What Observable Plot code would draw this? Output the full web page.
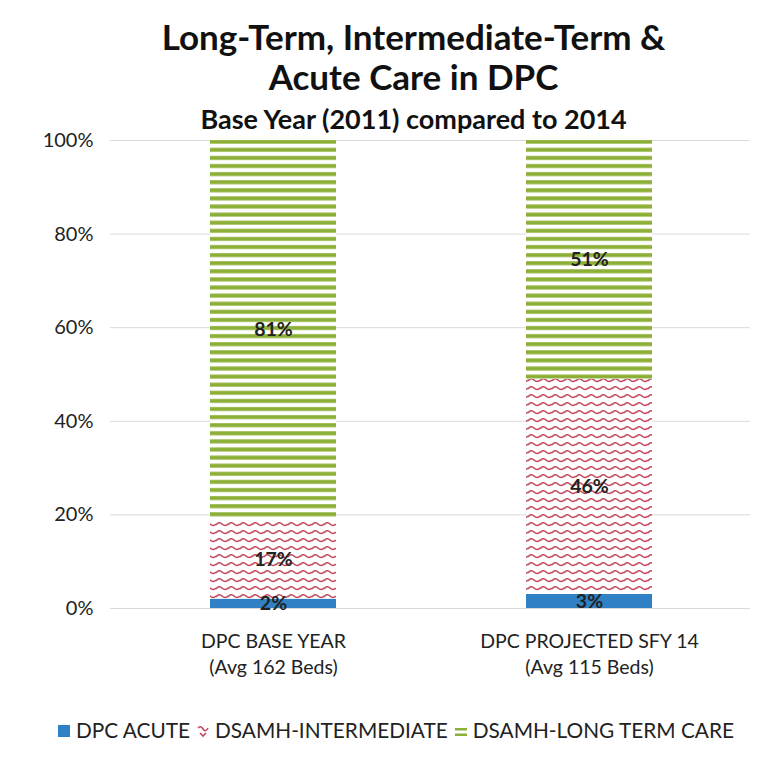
<!DOCTYPE html>
<html>
<head>
<meta charset="utf-8">
<script src="https://cdn.jsdelivr.net/npm/d3@7"></script>
<script src="https://cdn.jsdelivr.net/npm/@observablehq/plot@0.6"></script>
<style>
  html, body { margin: 0; padding: 0; background: #fff; }
  body { width: 763px; height: 766px; position: relative; overflow: hidden; font-family: Lato, "Open Sans", sans-serif; }
  #title { position: absolute; left: 32px; width: 763px; top: 16px; text-align: center; font-weight: bold; font-size: 35px; line-height: 40px; color: #111; }
  #subtitle { position: absolute; left: 32px; width: 763px; top: 102px; text-align: center; font-weight: bold; font-size: 27px; line-height: 34px; color: #111; }
  #chart { position: absolute; left: 0; top: 0; }
  #legend { position: absolute; left: 14px; width: 763px; top: 717px; text-align: center; font-size: 20.8px; color: #222; white-space: nowrap; }
  #legend span.item { margin: 0 3px; }
  #legend svg { vertical-align: -1px; margin-right: 5px; }
</style>
</head>
<body>
<div id="chart"></div>
<div id="title">Long-Term, Intermediate-Term &amp;<br>Acute Care in DPC</div>
<div id="subtitle">Base Year (2011) compared to 2014</div>
<div id="legend"></div>
<script>
const categories = ["DPC BASE YEAR", "DPC PROJECTED SFY 14"];
const subLabels = ["(Avg 162 Beds)", "(Avg 115 Beds)"];
const seriesNames = ["DPC ACUTE", "DSAMH-INTERMEDIATE", "DSAMH-LONG TERM CARE"];
const acute = [2, 3];
const intermediate = [17, 46];
const longTerm = [81, 51];
const yTicks = [0, 20, 40, 60, 80, 100];

const fills = ["#2f80c4", "url(#wave)", "url(#stripes)"];

const rows = [];
categories.forEach((c, i) => {
  rows.push({cat: c, series: seriesNames[0], value: acute[i]});
  rows.push({cat: c, series: seriesNames[1], value: intermediate[i]});
  rows.push({cat: c, series: seriesNames[2], value: longTerm[i]});
});

const stackOpts = {x: "cat", y: "value", z: "series", order: seriesNames};

const svg = Plot.plot({
  width: 763,
  height: 766,
  marginTop: 140,
  marginBottom: 158,
  marginLeft: 113,
  marginRight: 13,
  style: {fontFamily: "Lato, 'Open Sans', sans-serif", background: "transparent"},
  x: {domain: categories, range: [115, 748], paddingInner: 0.6, paddingOuter: 0.3, axis: null},
  y: {domain: [0, 100], axis: null},
  color: {domain: seriesNames, range: fills},
  marks: [
    Plot.ruleY(yTicks, {stroke: "#d9d9d9", strokeWidth: 1}),
    Plot.text(yTicks, {y: d => d, text: d => d + "%", frameAnchor: "left", textAnchor: "end", dx: -20, fontSize: 20, fill: "#222"}),
    Plot.barY(rows, Plot.stackY({...stackOpts, fill: "series"})),
    Plot.text(rows, Plot.stackY({...stackOpts, text: d => d.value + "%", fontWeight: "bold", fontSize: 19.5, fill: "#222"})),
    Plot.text(categories, {x: d => d, y: 0, dy: 33, text: d => d, fontSize: 19.5, fill: "#222"}),
    Plot.text(categories, {x: d => d, y: 0, dy: 59, text: (d, i) => subLabels[i], fontSize: 19.5, fill: "#222"})
  ]
});

// rules span from x=110 to 750
d3.select(svg).selectAll("g[aria-label='rule'] line").attr("x1", 110).attr("x2", 750);

const defs = d3.select(svg).insert("defs", ":first-child");
const st = defs.append("pattern").attr("id", "stripes").attr("patternUnits", "userSpaceOnUse")
  .attr("width", 8).attr("height", 8.1);
st.append("rect").attr("width", 8).attr("height", 8.1).attr("fill", "#fff");
st.append("rect").attr("y", 2).attr("width", 8).attr("height", 4).attr("fill", "#8cb037");

const wv = defs.append("pattern").attr("id", "wave").attr("patternUnits", "userSpaceOnUse")
  .attr("width", 12).attr("height", 8);
wv.append("rect").attr("width", 12).attr("height", 8).attr("fill", "#fff");
wv.append("path").attr("d", "M0,5 Q3,1 6,4 T12,4").attr("fill", "none")
  .attr("stroke", "#c0485c").attr("stroke-width", 1.6);

document.getElementById("chart").appendChild(svg);

// legend
const legend = d3.select("#legend");
const swatchFns = [
  s => s.append("rect").attr("x", 1).attr("y", 2).attr("width", 12).attr("height", 12).attr("fill", "#2f80c4"),
  s => s.append("path").attr("d", "M2,5 Q4.5,2 7,6 T12,5 M4,10 L7,13 L10,10").attr("fill", "none").attr("stroke", "#c0485c").attr("stroke-width", 1.6),
  s => { s.append("rect").attr("x", 1).attr("y", 5).attr("width", 12).attr("height", 2.5).attr("fill", "#8cb037");
         s.append("rect").attr("x", 1).attr("y", 10.5).attr("width", 12).attr("height", 2.5).attr("fill", "#8cb037"); }
];
seriesNames.forEach((name, i) => {
  const item = legend.append("span").attr("class", "item");
  const s = item.append("svg").attr("width", 14).attr("height", 16);
  swatchFns[i](s);
  item.append("span").text(name);
});
</script>
</body>
</html>
